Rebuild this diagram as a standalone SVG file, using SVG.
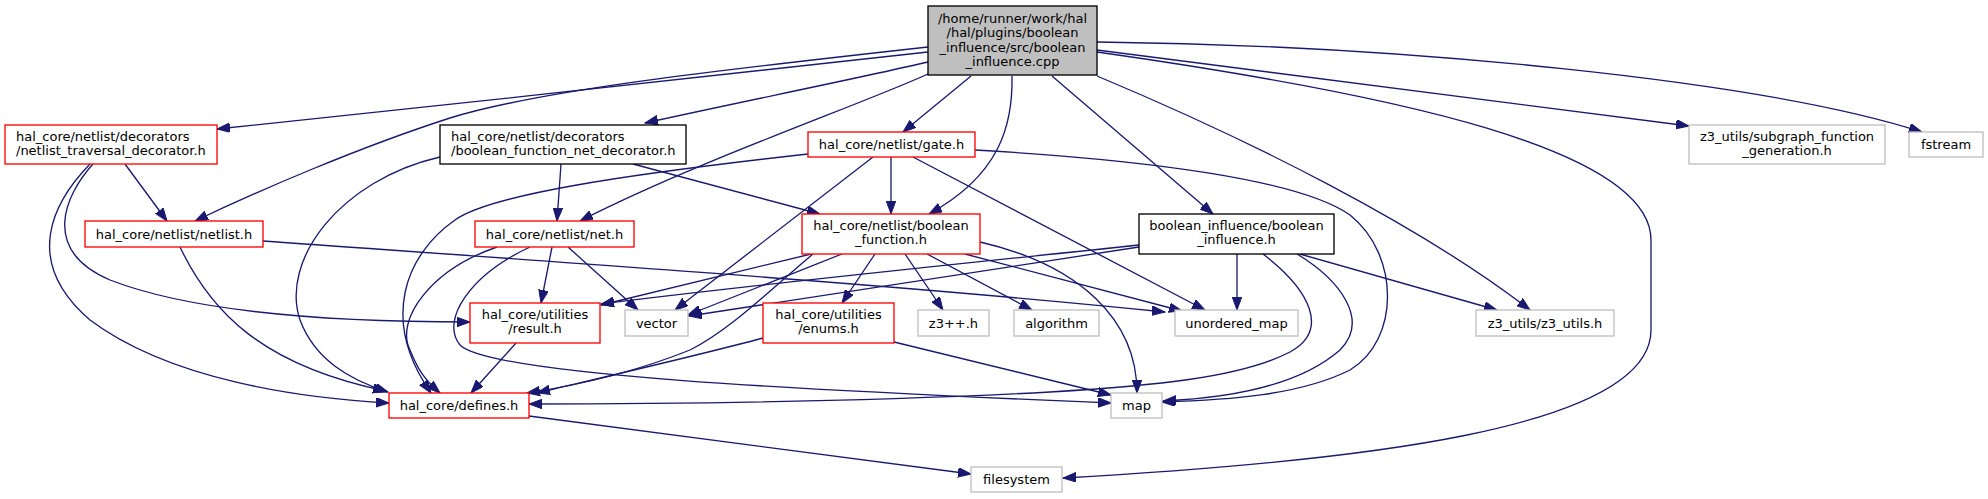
<svg xmlns="http://www.w3.org/2000/svg" width="1988" height="499" viewBox="0 0 1988 499">
<style>
text{font-family:"DejaVu Sans","Liberation Sans",sans-serif;font-size:13px;fill:#000}
.c{text-anchor:middle}
.l{text-anchor:start}
.red{fill:#fff;stroke:#ff0000;stroke-width:1.33}
.blk{fill:#fff;stroke:#000;stroke-width:1.33}
.gry{fill:#fff;stroke:#bfbfbf;stroke-width:1.33}
.root{fill:#bfbfbf;stroke:#000;stroke-width:1.33}
.e{fill:none;stroke:#191970;stroke-width:1.33;marker-end:url(#ah)}
</style>
<defs>
<marker id="ah" markerWidth="14" markerHeight="10" refX="13" refY="4.75" orient="auto" markerUnits="userSpaceOnUse">
<path d="M0,0 L13,4.75 L0,9.5 z" fill="#191970" stroke="#191970" stroke-width="1"/>
</marker>
</defs>
<rect width="1988" height="499" fill="#fff"/>
<g id="edges">
<path class="e" d="M928,52 C700,77 450,105 217,129"/>
<path class="e" d="M928,47 C720,70 540,90 450,118 C360,147 260,190 195,221"/>
<path class="e" d="M928,62 C850,80 740,102 645,123"/>
<path class="e" d="M928,74 C860,105 700,160 580,221"/>
<path class="e" d="M971,76 L903,132"/>
<path class="e" d="M1012,76 C1013,125 1000,175 929,214"/>
<path class="e" d="M1052,76 L1213,214"/>
<path class="e" d="M1097,50 C1300,75 1500,100 1689,126"/>
<path class="e" d="M1097,42 C1400,45 1760,80 1922,132"/>
<path class="e" d="M1097,76 C1250,140 1420,225 1530,310"/>
<path class="e" d="M1097,52 C1400,95 1651,150 1651,240 L1651,330 C1651,430 1350,462 1063,478"/>
<path class="e" d="M125,164 L167,221"/>
<path class="e" d="M93,164 C65,195 40,250 110,280 C200,315 350,322 470,322"/>
<path class="e" d="M90,164 C55,200 20,260 90,320 C170,380 300,398 389,403"/>
<path class="e" d="M561,164 L557,221"/>
<path class="e" d="M633,164 L820,214"/>
<path class="e" d="M440,157 C340,180 280,260 300,320 C315,360 350,380 388,392"/>
<path class="e" d="M180,247 C210,310 260,365 386,391"/>
<path class="e" d="M263,241 C600,265 900,285 1165,312"/>
<path class="e" d="M552,247 L541,303"/>
<path class="e" d="M568,247 L638,310"/>
<path class="e" d="M497,247 C430,270 395,320 410,350 C418,370 425,380 440,393"/>
<path class="e" d="M530,247 C470,275 440,320 460,345 C490,375 800,390 1111,403"/>
<path class="e" d="M891,157 L891,214"/>
<path class="e" d="M873,157 L675,310"/>
<path class="e" d="M913,157 L1205,310"/>
<path class="e" d="M808,154 C620,175 490,195 455,220 C405,255 380,320 431,393"/>
<path class="e" d="M975,150 C1150,160 1300,180 1350,215 C1400,255 1400,340 1350,370 C1300,395 1230,400 1162,402"/>
<path class="e" d="M811,254 L601,305"/>
<path class="e" d="M842,254 L688,315"/>
<path class="e" d="M875,254 L842,303"/>
<path class="e" d="M905,254 L943,310"/>
<path class="e" d="M927,254 L1032,310"/>
<path class="e" d="M965,254 L1182,311"/>
<path class="e" d="M980,242 C1080,265 1137,320 1137,393"/>
<path class="e" d="M813,254 C770,290 730,330 690,350 C640,370 580,385 527,393"/>
<path class="e" d="M1139,245 C950,265 750,285 601,304"/>
<path class="e" d="M1139,247 C950,275 800,300 689,316"/>
<path class="e" d="M1237,254 L1237,310"/>
<path class="e" d="M1300,254 L1497,310"/>
<path class="e" d="M1297,254 C1340,280 1370,320 1340,350 C1300,385 1230,398 1163,401"/>
<path class="e" d="M1263,254 C1310,290 1330,330 1290,352 C1240,378 1150,386 1050,392 C900,400 700,404 529,404"/>
<path class="e" d="M763,338 C700,355 600,378 537,393"/>
<path class="e" d="M894,342 L1111,395"/>
<path class="e" d="M516,343 L471,393"/>
<path class="e" d="M529,416 L971,474"/>
</g>
<g id="n_root"><rect class="root" x="928" y="6" width="169" height="69"/>
<text class="c" x="1012.5" y="22.5">/home/runner/work/hal</text>
<text class="c" x="1012.5" y="37">/hal/plugins/boolean</text>
<text class="c" x="1012.5" y="51.5">_influence/src/boolean</text>
<text class="c" x="1012.5" y="66">_influence.cpp</text></g>
<g id="n_traversal"><rect class="red" x="5" y="125" width="212" height="39"/>
<text class="l" x="16" y="140.5">hal_core/netlist/decorators</text>
<text class="l" x="16" y="155">/netlist_traversal_decorator.h</text></g>
<g id="n_bfnd"><rect class="blk" x="440" y="125" width="246" height="39"/>
<text class="l" x="451" y="140.5">hal_core/netlist/decorators</text>
<text class="l" x="451" y="155">/boolean_function_net_decorator.h</text></g>
<g id="n_gate"><rect class="red" x="808" y="132" width="167" height="25"/>
<text class="c" x="891.5" y="149">hal_core/netlist/gate.h</text></g>
<g id="n_subgraph"><rect class="gry" x="1689" y="125" width="196" height="39"/>
<text class="c" x="1787" y="140.5">z3_utils/subgraph_function</text>
<text class="c" x="1787" y="155">_generation.h</text></g>
<g id="n_fstream"><rect class="gry" x="1909" y="132" width="74" height="25"/>
<text class="c" x="1946" y="149">fstream</text></g>
<g id="n_netlist"><rect class="red" x="85" y="221" width="178" height="26"/>
<text class="c" x="174" y="238.5">hal_core/netlist/netlist.h</text></g>
<g id="n_net"><rect class="red" x="475" y="221" width="159" height="26"/>
<text class="c" x="554.5" y="238.5">hal_core/netlist/net.h</text></g>
<g id="n_boolfunc"><rect class="red" x="802" y="214" width="178" height="40"/>
<text class="c" x="891" y="229.5">hal_core/netlist/boolean</text>
<text class="c" x="891" y="244">_function.h</text></g>
<g id="n_boolinf"><rect class="blk" x="1139" y="214" width="195" height="40"/>
<text class="c" x="1236.5" y="229.5">boolean_influence/boolean</text>
<text class="c" x="1236.5" y="244">_influence.h</text></g>
<g id="n_result"><rect class="red" x="470" y="303" width="130" height="40"/>
<text class="c" x="535" y="318.5">hal_core/utilities</text>
<text class="c" x="535" y="333">/result.h</text></g>
<g id="n_vector"><rect class="gry" x="625" y="310" width="63" height="26"/>
<text class="c" x="656.5" y="327.5">vector</text></g>
<g id="n_enums"><rect class="red" x="763" y="303" width="131" height="40"/>
<text class="c" x="828.5" y="318.5">hal_core/utilities</text>
<text class="c" x="828.5" y="333">/enums.h</text></g>
<g id="n_z3pp"><rect class="gry" x="918" y="310" width="71" height="26"/>
<text class="c" x="953.5" y="327.5">z3++.h</text></g>
<g id="n_algorithm"><rect class="gry" x="1014" y="310" width="85" height="26"/>
<text class="c" x="1056.5" y="327.5">algorithm</text></g>
<g id="n_umap"><rect class="gry" x="1175" y="310" width="123" height="26"/>
<text class="c" x="1236.5" y="327.5">unordered_map</text></g>
<g id="n_z3utils"><rect class="gry" x="1476" y="310" width="138" height="26"/>
<text class="c" x="1545" y="327.5">z3_utils/z3_utils.h</text></g>
<g id="n_defines"><rect class="red" x="389" y="393" width="140" height="25"/>
<text class="c" x="459" y="410">hal_core/defines.h</text></g>
<g id="n_map"><rect class="gry" x="1111" y="393" width="51" height="25"/>
<text class="c" x="1136.5" y="410">map</text></g>
<g id="n_filesystem"><rect class="gry" x="971" y="467" width="91" height="25"/>
<text class="c" x="1016.5" y="484">filesystem</text></g>
</svg>
